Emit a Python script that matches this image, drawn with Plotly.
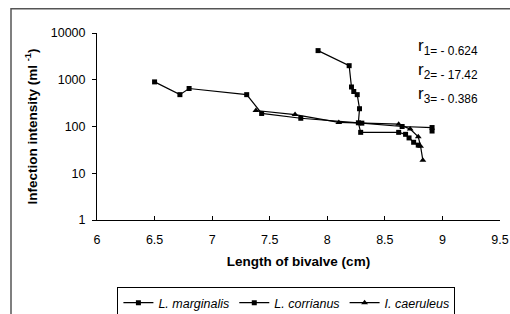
import plotly.graph_objects as go

# Data
marg_x = [6.5, 6.72, 6.8, 7.3, 7.43, 7.77, 8.3, 8.65, 8.91, 8.91]
marg_y = [900, 480, 650, 480, 190, 150, 118, 100, 95, 80]

corr_x = [7.92, 8.19, 8.21, 8.23, 8.26, 8.28, 8.27, 8.29, 8.62, 8.68, 8.71, 8.75, 8.79]
corr_y = [4200, 2000, 700, 560, 480, 240, 120, 75, 75, 68, 57, 46, 40]

caer_x = [7.38, 7.72, 8.1, 8.62, 8.72, 8.79, 8.81, 8.83]
caer_y = [220, 180, 122, 112, 88, 60, 38, 19]

r_labels = ["1= - 0.624", "2= - 17.42", "3= - 0.386"]

x_ticks = [6, 6.5, 7, 7.5, 8, 8.5, 9, 9.5]
x_tick_text = ["6", "6.5", "7", "7.5", "8", "8.5", "9", "9.5"]
y_ticks = [1, 10, 100, 1000, 10000]
y_tick_text = ["1", "10", "100", "1000", "10000"]

W, H = 510, 314
L, R, T, B = 97, 10, 33, 94
pw, ph = W - L - R, H - T - B

def px(img_x):
    return (img_x - L) / pw

def py(img_y):
    return (H - B - img_y) / ph

fig = go.Figure()
fig.add_trace(go.Scatter(x=marg_x, y=marg_y, mode="lines+markers", name="<i>L. marginalis</i>",
                         line=dict(color="black", width=1.2),
                         marker=dict(symbol="square", size=5, color="black")))
fig.add_trace(go.Scatter(x=corr_x, y=corr_y, mode="lines+markers", name="<i>L. corrianus</i>",
                         line=dict(color="black", width=1.2),
                         marker=dict(symbol="square", size=5, color="black")))
fig.add_trace(go.Scatter(x=caer_x, y=caer_y, mode="lines+markers", name="<i>I. caeruleus</i>",
                         line=dict(color="black", width=1.2),
                         marker=dict(symbol="triangle-up", size=6, color="black")))

font = "Liberation Sans, Arial, sans-serif"

fig.update_layout(
    width=W, height=H,
    margin=dict(l=L, r=R, t=T, b=B, pad=0, autoexpand=False),
    paper_bgcolor="white", plot_bgcolor="white",
    font=dict(family=font, size=12, color="black"),
    showlegend=True,
    legend=dict(orientation="h", x=0.47, xanchor="center", y=py(287), yanchor="top",
                bordercolor="black", borderwidth=1, bgcolor="white",
                font=dict(size=12.5), itemwidth=30, tracegroupgap=0),
    xaxis=dict(range=[6, 9.5], tickvals=x_ticks, ticktext=x_tick_text, automargin=False,
               showgrid=False, zeroline=False, showline=True, linecolor="black", linewidth=1,
               ticks="inside", ticklen=4, tickcolor="black", ticklabelstandoff=8,
               tickfont=dict(size=12.5),
               title=dict(text="<b>Length of bivalve (cm)</b>", font=dict(size=13.5), standoff=10)),
    yaxis=dict(type="log", range=[0, 4], tickvals=y_ticks, ticktext=y_tick_text, automargin=False,
               showgrid=False, zeroline=False, showline=True, linecolor="black", linewidth=1,
               ticks="outside", ticklen=4, tickcolor="black", ticklabelstandoff=4,
               tickfont=dict(size=12.5),
               title=dict(text="<b>Infection intensity (ml <sup>-1</sup>)</b>", font=dict(size=13.5), standoff=10)),
)

# outer chart border
fig.add_shape(type="rect", xref="paper", yref="paper",
              x0=px(11), x1=px(530), y0=py(340), y1=py(8.8),
              line=dict(color="#555555", width=1.5), fillcolor="rgba(0,0,0,0)", layer="below")

for i, (lab, yy) in enumerate(zip(r_labels, [47, 71, 95])):
    fig.add_annotation(xref="paper", yref="paper", x=px(416), y=py(yy),
                       xanchor="left", yanchor="middle", showarrow=False,
                       text="r<sub>" + lab + "</sub>",
                       font=dict(family=font, size=17, color="black"))

fig.write_html("out.html",
               config={"displayModeBar": False},
               post_script="document.body.style.margin='0';document.body.style.overflow='hidden';")
